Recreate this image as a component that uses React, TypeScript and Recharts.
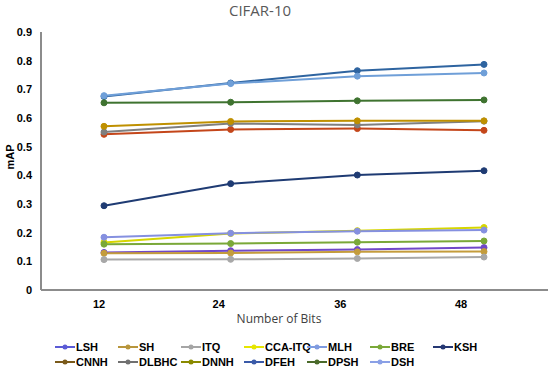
import { LineChart, Line, XAxis, YAxis } from 'recharts';

const BITS = ['12', '24', '36', '48'];
const Y_TICKS = [0, 0.1, 0.2, 0.3, 0.4, 0.5, 0.6, 0.7, 0.8, 0.9];

const LSH = [0.131, 0.137, 0.141, 0.148];
const SH = [0.128, 0.129, 0.133, 0.134];
const ITQ = [0.106, 0.107, 0.110, 0.115];
const CCA_ITQ = [0.166, 0.197, 0.207, 0.218];
const MLH = [0.184, 0.198, 0.205, 0.209];
const BRE = [0.160, 0.162, 0.167, 0.171];
const KSH = [0.294, 0.371, 0.401, 0.416];
const CNNH = [0.543, 0.560, 0.563, 0.557];
const DLBHC = [0.551, 0.581, 0.576, 0.589];
const DNNH = [0.571, 0.588, 0.590, 0.590];
const DFEH = [0.675, 0.722, 0.765, 0.787];
const DPSH = [0.653, 0.655, 0.660, 0.663];
const DSH = [0.678, 0.720, 0.746, 0.757];

// name, values, line colour, legend colour
const SERIES: [string, number[], string, string][] = [
    ['LSH', LSH, '#7048c8', '#5b5bd6'],
    ['SH', SH, '#c49c3c', '#b8963c'],
    ['ITQ', ITQ, '#a8a8a8', '#a5a5a5'],
    ['CCA-ITQ', CCA_ITQ, '#d6d600', '#e6e600'],
    ['MLH', MLH, '#8590e0', '#7f9be0'],
    ['BRE', BRE, '#7aa838', '#7aa838'],
    ['KSH', KSH, '#1f3b73', '#253873'],
    ['CNNH', CNNH, '#c4461a', '#7a5a1a'],
    ['DLBHC', DLBHC, '#7f7f7f', '#707070'],
    ['DNNH', DNNH, '#bf9000', '#8a8a00'],
    ['DFEH', DFEH, '#2e64a0', '#3a5aa8'],
    ['DPSH', DPSH, '#3f7330', '#4a6a2a'],
    ['DSH', DSH, '#6f9fd8', '#8aa0e6'],
];

const chartData = BITS.map((b, i) => {
    const row: any = { bits: b };
    SERIES.forEach(([name, vals]) => { row[name] = vals[i]; });
    return row;
});

const tickShift = [-5, -12, -17, -23];
const font = '"Liberation Sans", Arial, sans-serif';

const XTick = (props: any) => {
    const { x, y, payload, index } = props;
    return (
        <text x={x + (tickShift[index] || 0)} y={y + 16} textAnchor="middle"
            fontFamily={font} fontWeight="bold" fontSize={11} fill="#000">
            {payload.value}
        </text>
    );
};

const App = () => {
    return (
        <div style={{ position: 'absolute', left: 0, top: 0, width: 550, height: 372, background: '#fff', fontFamily: font }}>
            <LineChart width={550} height={372} data={chartData}
                margin={{ top: 32, right: 2, left: 0, bottom: 52 }}>
                <XAxis dataKey="bits" padding={{ left: 63, right: 64 }} height={30}
                    axisLine={{ stroke: '#8c8c8c', strokeWidth: 2 }} tickLine={false}
                    tickSize={0} tick={<XTick />} interval={0} />
                <YAxis width={41} domain={[0, 0.9]} ticks={Y_TICKS}
                    axisLine={{ stroke: '#8c8c8c', strokeWidth: 2 }} tickLine={false}
                    tickSize={0} tickMargin={9}
                    tickFormatter={(v: number) => (v === 0 ? '0' : v.toFixed(1))}
                    tick={{ fontFamily: font, fontWeight: 'bold', fontSize: 11, fill: '#000' }} />
                {SERIES.map(([name, , color]) => (
                    <Line key={name} type="linear" dataKey={name} stroke={color} strokeWidth={2}
                        dot={{ r: 3, fill: color, stroke: color, strokeWidth: 1 }}
                        isAnimationActive={false} />
                ))}
            </LineChart>

            <div style={{ position: 'absolute', left: 0, width: 520, top: 0, textAlign: 'center', fontFamily: '"Open Sans", "Noto Sans", sans-serif', fontSize: 15, color: '#595959', lineHeight: '20px' }}>
                CIFAR-10
            </div>
            <div style={{ position: 'absolute', left: 0, width: 558, top: 310, textAlign: 'center', fontFamily: '"Open Sans", "Noto Sans", sans-serif', fontSize: 12, color: '#404040', lineHeight: '18px' }}>
                Number of Bits
            </div>
            <div style={{ position: 'absolute', left: -10, top: 150, width: 40, textAlign: 'center', transform: 'rotate(-90deg)', fontWeight: 'bold', fontSize: 11, lineHeight: '14px', color: '#000' }}>
                mAP
            </div>

            <div style={{ position: 'absolute', left: 55, top: 340, width: 450, display: 'flex', flexWrap: 'wrap' }}>
                {SERIES.map(([name, , , lc]) => (
                    <div key={name} style={{ width: 63, height: 14.5, display: 'flex', alignItems: 'center' }}>
                        <svg width={20} height={8} style={{ flex: 'none' }}>
                            <line x1={0} y1={4} x2={20} y2={4} stroke={lc} strokeWidth={2} />
                            <circle cx={10} cy={4} r={2.5} fill={lc} />
                        </svg>
                        <span style={{ fontSize: 11, fontWeight: 'bold', color: '#000', marginLeft: 1, whiteSpace: 'nowrap' }}>{name}</span>
                    </div>
                ))}
            </div>
        </div>
    );
};

export default App;
